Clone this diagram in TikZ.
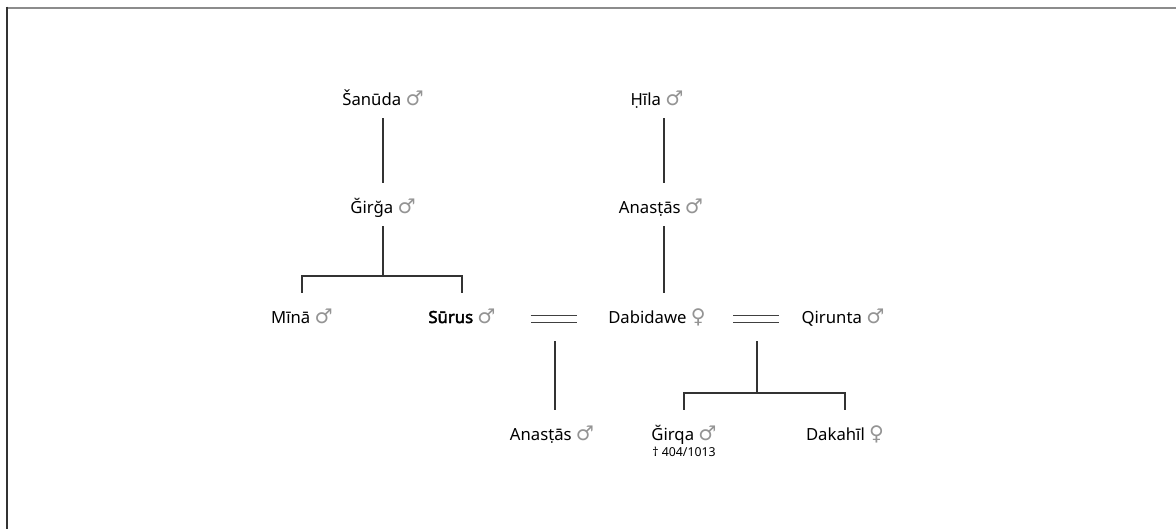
\documentclass[tikz,border=0pt]{standalone}
\usepackage{fontspec}
\setmainfont{Noto Sans}[AutoFakeBold=2.5]
\newfontfamily\symfont{DejaVu Sans}
\usepackage{xcolor}
\newcommand{\gmale}{{\symfont\fontsize{11.5}{12}\selectfont\color{black!42}♂}}
\newcommand{\gfemale}{{\symfont\fontsize{11.5}{12}\selectfont\color{black!42}♀}}

\begin{document}
\begin{tikzpicture}[
  person/.style={anchor=base, inner sep=0pt, text height=0.6cm, text depth=0.26cm, font=\fontsize{9.5}{11}\selectfont},
  kin/.style={line width=1.3pt, draw=black!80},
  wed/.style={line width=0.55pt, draw=black!75, double distance=0.12cm}
]
\useasboundingbox (0,0) rectangle (23.52,-10.58);
\draw [line width=0.04cm, black!45] (0.12,-0.15) -- (23.52,-0.15);
\draw [line width=0.04cm, black!80] (0.13,-0.13) -- (0.13,-10.58);

\node[person] (sanuda) at (7.66,-2.10) {Šanūda \gmale};
\node[person] (girga) at (7.66,-4.26) {Ğirğa \gmale};
\node[person] (mina) at (6.04,-6.46) {Mīnā \gmale};
\node[person] (surus) at (9.24,-6.46) {\textbf{Sūrus} \gmale};

\node[person] (hila) at (13.14,-2.10) {Ḥīla \gmale};
\node[person] (anastas) at (13.22,-4.26) {Anasṭās \gmale};
\node[person] (dabidawe) at (13.14,-6.46) {Dabidawe \gfemale};
\node[person] (qirunta) at (16.86,-6.46) {Qirunta \gmale};

\node[person] (anastasson) at (11.04,-8.80) {Anasṭās \gmale};
\node[person] (girqa) at (13.68,-8.80) {Ğirqa \gmale};
\node[inner sep=0pt, font=\fontsize{7}{8}\selectfont] (girqadeath) at (13.68,-9.04) {† 404/1013};
\node[person] (dakahil) at (16.90,-8.80) {Dakahīl \gfemale};

\draw[kin] (sanuda) -- (girga);
\coordinate (forkA) at (7.66,-5.52);
\draw[kin] (girga) -- (forkA);
\draw[kin] (mina.north) |- (forkA) -| (surus.north);

\coordinate (hilaline) at (13.28,0);
\draw[kin] (hilaline |- hila.south) -- (hilaline |- anastas.north);
\draw[kin] (hilaline |- anastas.south) -- (hilaline |- dabidawe.north);

\coordinate (wedA) at (11.07,-6.384);
\draw[wed] (wedA) ++(-0.46,0) -- ++(0.92,0);
\coordinate (wedAchild) at (11.10,-6.82);
\draw[kin] (wedAchild) -- (wedAchild |- anastasson.north);

\coordinate (wedB) at (15.12,-6.384);
\draw[wed] (wedB) ++(-0.46,0) -- ++(0.92,0);
\coordinate (forkB) at (15.14,-7.86);
\draw[kin] (forkB |- wedAchild) -- (forkB);
\draw[kin] (girqa.north) |- (forkB) -| (dakahil.north);
\end{tikzpicture}
\end{document}
